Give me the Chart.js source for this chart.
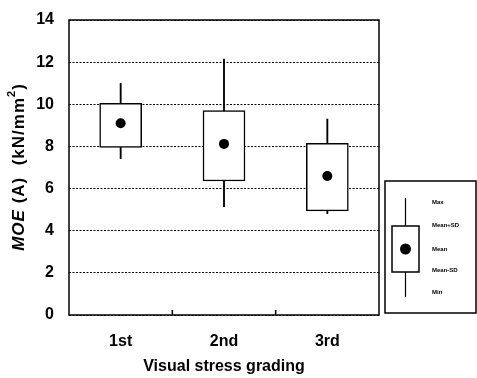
<!DOCTYPE html>
<html>
<head>
<meta charset="utf-8">
<script src="https://cdn.jsdelivr.net/npm/chart.js@4"></script>
<style>
  body { margin: 0; background: #fff; }
  canvas { display: block; }
</style>
</head>
<body>
<canvas id="moeChart" width="477" height="378"></canvas>
<script>
const categories = ['1st', '2nd', '3rd'];
const maxVals = [11.0, 12.15, 9.3];
const meanPlusSD = [10.05, 9.7, 8.15];
const meanVals = [9.1, 8.12, 6.6];
const meanMinusSD = [7.95, 6.36, 4.94];
const minVals = [7.42, 5.14, 4.81];
const yTicks = [0, 2, 4, 6, 8, 10, 12, 14];
const legendLabels = ['Max', 'Mean+SD', 'Mean', 'Mean-SD', 'Min'];

const FONT = "'Liberation Sans', Arial, sans-serif";

// frame, inner category ticks, y title and the key box on the right
const extras = {
   id: 'extras',
   afterDraw(chart) {
      const { ctx, chartArea: a, scales: { x } } = chart;
      ctx.save();
      ctx.strokeStyle = '#000';
      ctx.lineWidth = 1.5;
      ctx.strokeRect(a.left, a.top, a.right - a.left, a.bottom - a.top);

      for (let i = 1; i < categories.length; i++) {
         const px = (x.getPixelForValue(i - 1) + x.getPixelForValue(i)) / 2;
         ctx.beginPath();
         ctx.moveTo(px, a.bottom);
         ctx.lineTo(px, a.bottom - 5);
         ctx.stroke();
      }

      // y title: MOE (A)  (kN/mm²)
      const parts = [
         { t: 'MOE', f: `italic bold 17px ${FONT}`, dy: 0 },
         { t: ' (A)  (kN/mm', f: `bold 17px ${FONT}`, dy: 0 },
         { t: '2', f: `bold 11px ${FONT}`, dy: -7 },
         { t: ')', f: `bold 17px ${FONT}`, dy: 0 }
      ];
      ctx.letterSpacing = '1px';
      let total = 0;
      parts.forEach(p => { ctx.font = p.f; p.w = ctx.measureText(p.t).width; total += p.w; });
      ctx.translate(19, 167);
      ctx.rotate(-Math.PI / 2);
      ctx.fillStyle = '#000';
      ctx.textBaseline = 'middle';
      let cx = -total / 2;
      parts.forEach(p => { ctx.font = p.f; ctx.fillText(p.t, cx, p.dy); cx += p.w; });
      ctx.restore();

      // key
      ctx.save();
      ctx.strokeStyle = '#000';
      ctx.fillStyle = '#000';
      ctx.lineWidth = 1.5;
      ctx.strokeRect(385, 181, 91, 132);
      ctx.lineWidth = 1.2;
      ctx.beginPath();
      ctx.moveTo(405.5, 198); ctx.lineTo(405.5, 297);
      ctx.stroke();
      ctx.fillStyle = '#fff';
      ctx.fillRect(392, 226, 27, 46);
      ctx.lineWidth = 1.5;
      ctx.strokeRect(392, 226, 27, 46);
      ctx.fillStyle = '#000';
      ctx.beginPath();
      ctx.arc(405.5, 249, 5.5, 0, Math.PI * 2);
      ctx.fill();
      ctx.font = `bold 6px ${FONT}`;
      ctx.textBaseline = 'middle';
      const ly = [202, 225, 249, 270, 292];
      legendLabels.forEach((l, i) => ctx.fillText(l, 432, ly[i]));
      ctx.restore();
   }
};

const ctx = document.getElementById('moeChart').getContext('2d');
new Chart(ctx, {
   data: {
      labels: categories,
      datasets: [{
         type: 'line',
         data: meanVals,
         showLine: false,
         pointRadius: 5,
         pointBackgroundColor: '#000',
         pointBorderWidth: 0,
         order: 0
      }, {
         type: 'bar',
         data: categories.map((c, i) => [meanMinusSD[i], meanPlusSD[i]]),
         backgroundColor: '#fff',
         borderColor: '#000',
         borderWidth: 1.5,
         borderSkipped: false,
         barThickness: 42,
         grouped: false,
         order: 1
      }, {
         type: 'bar',
         data: categories.map((c, i) => [meanPlusSD[i], maxVals[i]]),
         backgroundColor: '#000',
         barThickness: 1.2,
         grouped: false,
         order: 2
      }, {
         type: 'bar',
         data: categories.map((c, i) => [minVals[i], meanMinusSD[i]]),
         backgroundColor: '#000',
         barThickness: 1.2,
         grouped: false,
         order: 3
      }]
   },
   options: {
      responsive: false,
      animation: false,
      layout: { padding: { top: 20, right: 98, left: 0, bottom: 0 } },
      plugins: {
         legend: { display: false },
         tooltip: { enabled: false }
      },
      scales: {
         x: {
            grid: { display: false, drawTicks: false },
            border: { display: false },
            ticks: { color: '#000', padding: 17, font: { family: FONT, size: 16, weight: 'bold' } },
            title: {
               display: true,
               text: 'Visual stress grading',
               color: '#000',
               padding: { top: 0, bottom: 2 },
               font: { family: FONT, size: 16, weight: 'bold' }
            },
            afterFit: (scale) => { scale.height = 63; }
         },
         y: {
            min: 0,
            max: 14,
            afterBuildTicks: (scale) => { scale.ticks = yTicks.map(v => ({ value: v })); },
            grid: { color: '#000', lineWidth: 1, drawTicks: false },
            border: { display: false, dash: [2, 1.5] },
            ticks: { color: '#000', padding: 15, font: { family: FONT, size: 16, weight: 'bold' } },
            afterFit: (scale) => {
               scale.width = 69;
               scale.paddingTop = 0;
               scale.paddingBottom = 0;
            }
         }
      }
   },
   plugins: [extras]
});
</script>
</body>
</html>
